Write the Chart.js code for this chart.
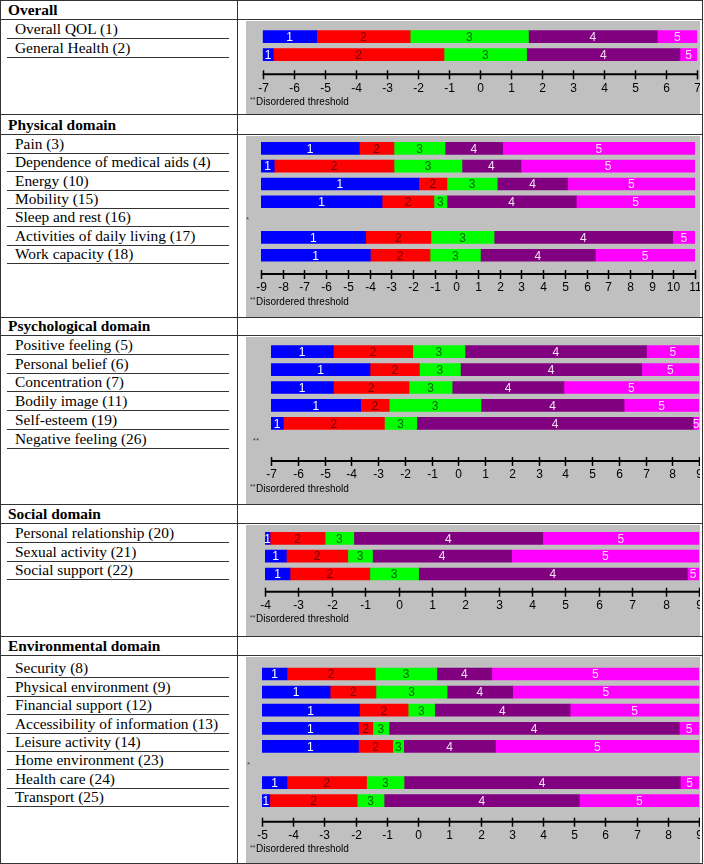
<!DOCTYPE html>
<html>
<head>
<meta charset="utf-8">
<script src="https://cdn.jsdelivr.net/npm/chart.js@4.4.1/dist/chart.umd.min.js"></script>
<style>
  html, body { margin: 0; padding: 0; background: #fff; }
  #fig { position: relative; width: 704px; height: 864px; overflow: hidden;
         font-family: "Liberation Serif", "Times New Roman", serif; color: #000; }
  .hl { position: absolute; left: 0; width: 703px; height: 1px; background: #333; }
  .vl { position: absolute; width: 1px; background: #333; }
  .head { position: absolute; left: 8px; font-weight: bold; font-size: 15.4px; line-height: 18px; white-space: nowrap; }
  .lab { position: absolute; left: 7px; width: 222px; height: 19px; box-sizing: border-box;
         border-bottom: 1px solid #333; padding-left: 8px; font-size: 15.4px; line-height: 18px; white-space: nowrap; }
  .panel { position: absolute; left: 246px; width: 454px; background: #c0c0c0; }
  .panel canvas { position: absolute; left: 0; top: 0; }
</style>
</head>
<body>
<div id="fig"></div>
<script>
// Rasch threshold locations (logits); null = disordered item
const categoryNames = ['1', '2', '3', '4', '5'];
const categoryColors = ['#0000ff', '#ff0000', '#00ff00', '#800080', '#ff00ff'];
const categoryTextColors = ['#ffffff', '#6a0000', '#006400', '#f2e2f2', '#ffe0ff'];

const overallItems = ['Overall QOL (1)', 'General Health (2)'];
const overallThresholds = [
  [-5.26, -2.25, 1.56, 5.71],
  [-6.66, -1.16, 1.50, 6.44]
];
const overallRange = [-7, 7];

const physicalItems = ['Pain (3)', 'Dependence of medical aids (4)', 'Energy (10)', 'Mobility (15)',
  'Sleep and rest (16)', 'Activities of daily living (17)', 'Work capacity (18)'];
const physicalThresholds = [
  [-4.47, -2.87, -0.52, 2.14],
  [-8.39, -2.87, 0.26, 2.98],
  [-1.73, -0.43, 1.89, 5.13],
  [-3.42, -1.03, -0.43, 5.53],
  null,
  [-4.18, -1.17, 1.74, 9.97],
  [-3.96, -1.21, 1.11, 6.41]
];
const physicalRange = [-9, 11];

const psychItems = ['Positive feeling (5)', 'Personal belief (6)', 'Concentration (7)', 'Bodily image (11)',
  'Self\u2010esteem (19)', 'Negative feeling (26)'];
const psychThresholds = [
  [-4.67, -1.70, 0.25, 7.04],
  [-3.30, -1.45, 0.08, 6.86],
  [-4.67, -1.84, -0.23, 3.95],
  [-3.65, -2.58, 0.85, 6.20],
  [-6.54, -2.76, -1.55, 8.79],
  null
];
const psychRange = [-7, 9];

const socialItems = ['Personal relationship (20)', 'Sexual activity (21)', 'Social support (22)'];
const socialThresholds = [
  [-3.85, -2.20, -1.34, 4.32],
  [-3.36, -1.52, -0.78, 3.39],
  [-3.25, -0.86, 0.60, 8.65]
];
const socialRange = [-4, 9];

const envItems = ['Security (8)', 'Physical environment (9)', 'Financial support (12)',
  'Accessibility of information (13)', 'Leisure activity (14)', 'Home environment (23)',
  'Health care (24)', 'Transport (25)'];
const envThresholds = [
  [-4.20, -1.37, 0.60, 2.36],
  [-2.82, -1.35, 0.93, 3.03],
  [-1.88, -0.32, 0.53, 4.87],
  [-1.91, -1.45, -0.93, 8.37],
  [-1.91, -0.81, -0.46, 2.48],
  null,
  [-4.20, -1.65, -0.45, 8.40],
  [-4.75, -1.95, -1.09, 5.17]
];
const envRange = [-5, 9];

// page layout of each table section
const sections = [
  { title: 'Overall', items: overallItems, thr: overallThresholds, range: overallRange, marker: '',
    headLine: 19, bottom: 114, under0: 38.3, underStep: 18.4,
    x0: 262.7, x1: 697.3, row0: 36.7, rowStep: 18, axisY: 74.3 },
  { title: 'Physical domain', items: physicalItems, thr: physicalThresholds, range: physicalRange, marker: '*',
    headLine: 134, bottom: 317, under0: 152.7, underStep: 18.43,
    x0: 261, x1: 695, row0: 148.3, rowStep: 17.83, axisY: 274 },
  { title: 'Psychological domain', items: psychItems, thr: psychThresholds, range: psychRange, marker: '**',
    headLine: 335, bottom: 504, under0: 354, underStep: 18.7,
    x0: 271, x1: 699, row0: 351.7, rowStep: 17.9, axisY: 461 },
  { title: 'Social domain', items: socialItems, thr: socialThresholds, range: socialRange, marker: '',
    headLine: 523, bottom: 636, under0: 542.3, underStep: 18.35,
    x0: 265, x1: 699, row0: 538.3, rowStep: 17.85, axisY: 591.7 },
  { title: 'Environmental domain', items: envItems, thr: envThresholds, range: envRange, marker: '*',
    headLine: 655, bottom: 863, under0: 677.3, underStep: 18.4,
    x0: 262, x1: 699, row0: 674, rowStep: 18.1, axisY: 821.7 }
];

const PANEL_LEFT = 246, PANEL_RIGHT = 700;
const sansFont = '"Liberation Sans", Arial, sans-serif';

// numbers inside segments, disordered markers and the logit ruler
const thresholdMap = {
  id: 'thresholdMap',
  afterDatasetsDraw(chart, args, opts) {
    const ctx = chart.ctx;
    const xs = chart.scales.x, ys = chart.scales.y;

    chart.data.datasets.forEach((ds, d) => {
      chart.getDatasetMeta(d).data.forEach((el, i) => {
        if (!ds.data[i]) return;
        const p = el.getProps(['x', 'base', 'y', 'height'], true);
        const l = Math.min(p.x, p.base), r = Math.max(p.x, p.base);
        ctx.save();
        ctx.beginPath();
        ctx.rect(l, p.y - p.height / 2, r - l, p.height);
        ctx.clip();
        ctx.fillStyle = categoryTextColors[d];
        ctx.font = '12px ' + sansFont;
        ctx.textAlign = 'center';
        ctx.textBaseline = 'middle';
        ctx.fillText(ds.label, (l + r) / 2, p.y + 1);
        ctx.restore();
      });
    });

    ctx.save();
    // disordered items get a small marker at the left edge
    ctx.fillStyle = '#444';
    ctx.font = '8px ' + sansFont;
    ctx.textAlign = 'right';
    ctx.textBaseline = 'middle';
    opts.thr.forEach((t, i) => {
      if (t === null) ctx.fillText(opts.marker, xs.left - 12, ys.getPixelForValue(i));
    });

    // ruler
    const y = opts.axisY;
    const min = xs.min, max = xs.max;
    ctx.strokeStyle = '#000';
    ctx.lineWidth = 2;
    ctx.beginPath();
    ctx.moveTo(xs.getPixelForValue(min), y);
    ctx.lineTo(xs.getPixelForValue(max), y);
    ctx.stroke();

    let ticks = xs.ticks.map(t => t.value);
    if (!ticks.length) for (let v = min; v <= max; v++) ticks.push(v);
    ctx.lineWidth = 1.5;
    ctx.fillStyle = '#000';
    ctx.font = '12px ' + sansFont;
    ctx.textAlign = 'center';
    ctx.textBaseline = 'middle';
    ticks.forEach(v => {
      const x = Math.round(xs.getPixelForValue(v)) + 0.5;
      ctx.beginPath();
      ctx.moveTo(x, y - 4);
      ctx.lineTo(x, y + 5);
      ctx.stroke();
      ctx.fillText(String(v), x, y + 14);
    });

    ctx.textAlign = 'left';
    ctx.font = '7px ' + sansFont;
    ctx.fillStyle = '#333';
    ctx.fillText('**', 4, y + 26);
    ctx.font = '10px ' + sansFont;
    ctx.fillStyle = '#000';
    ctx.fillText('Disordered threshold', 10, y + 28);
    ctx.restore();
  }
};

const fig = document.getElementById('fig');
function addDiv(cls, css, text) {
  const el = document.createElement('div');
  el.className = cls;
  Object.assign(el.style, css);
  if (text) el.textContent = text;
  fig.appendChild(el);
  return el;
}

// table frame
addDiv('hl', { top: '0px' });
addDiv('vl', { left: '0px', top: '0px', height: '864px' });
addDiv('vl', { left: '702px', top: '0px', height: '864px' });
addDiv('vl', { left: '237px', top: '0px', height: '864px' });

sections.forEach(sec => {
  addDiv('hl', { top: sec.headLine + 'px' });
  addDiv('hl', { top: sec.bottom + 'px' });
  addDiv('head', { top: (sec.headLine - 17.7) + 'px' }, sec.title);

  sec.items.forEach((name, i) => {
    const under = sec.under0 + i * sec.underStep;
    addDiv('lab', { top: (under - 18) + 'px' }, name);
  });

  const pTop = sec.headLine + 2, pBottom = sec.bottom;
  const w = PANEL_RIGHT - PANEL_LEFT, h = pBottom - pTop;
  const panel = addDiv('panel', { top: pTop + 'px', height: h + 'px' });
  const canvas = document.createElement('canvas');
  canvas.width = w;
  canvas.height = h;
  panel.appendChild(canvas);

  const n = sec.items.length;
  const chartTop = sec.row0 - sec.rowStep / 2;
  const chartBottom = sec.row0 + (n - 0.5) * sec.rowStep;

  const datasets = categoryNames.map((cat, k) => ({
    label: cat,
    data: sec.thr.map(t => {
      if (t === null) return null;
      const lo = k === 0 ? sec.range[0] : t[k - 1];
      const hi = k === 4 ? sec.range[1] : t[k];
      return [lo, hi];
    }),
    backgroundColor: categoryColors[k],
    borderWidth: 0,
    borderSkipped: false,
    barThickness: 12,
    grouped: false
  }));

  new Chart(canvas, {
    type: 'bar',
    data: { labels: sec.items, datasets },
    options: {
      indexAxis: 'y',
      responsive: false,
      animation: false,
      events: [],
      layout: {
        padding: {
          left: sec.x0 - PANEL_LEFT,
          right: PANEL_RIGHT - sec.x1,
          top: chartTop - pTop,
          bottom: pBottom - chartBottom
        }
      },
      plugins: {
        legend: { display: false },
        tooltip: { enabled: false },
        thresholdMap: { thr: sec.thr, marker: sec.marker, axisY: sec.axisY - pTop }
      },
      scales: {
        x: { type: 'linear', display: false, min: sec.range[0], max: sec.range[1], ticks: { stepSize: 1 } },
        y: { type: 'category', display: false, offset: true }
      }
    },
    plugins: [thresholdMap]
  });
});
</script>
</body>
</html>
